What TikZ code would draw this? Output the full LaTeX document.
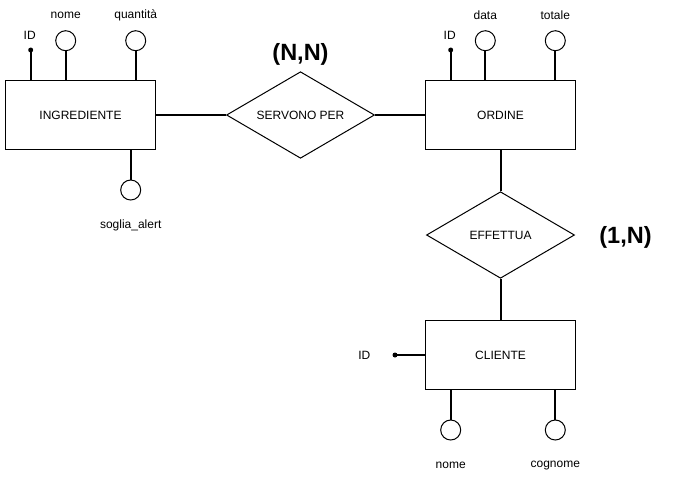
\documentclass[tikz,border=0pt]{standalone}
\usepackage{fontspec}
\setmainfont{Liberation Sans}
\usetikzlibrary{shapes.geometric,positioning}
\definecolor{erink}{HTML}{000000}
\tikzset{
  erentity/.style={draw=erink, fill=white, line width=1pt, inner sep=0pt,
                   minimum width=149.6pt, minimum height=69.7pt,
                   font=\fontsize{12}{14}\selectfont},
  errel/.style={diamond, draw=erink, fill=white, line width=1pt, inner sep=0pt,
                minimum width=148pt, minimum height=86.6pt, aspect=1.7,
                font=\fontsize{12}{14}\selectfont},
  erattr/.style={circle, draw=erink, line width=1pt, minimum size=20pt, inner sep=0pt},
  erkey/.style={circle, fill=erink, minimum size=5pt, inner sep=0pt},
  erlink/.style={draw=erink, line width=2pt},
  erlabel/.style={font=\fontsize{12}{14}\selectfont, inner sep=1pt},
  ercard/.style={font=\bfseries\fontsize{23.5}{27}\selectfont, inner sep=1pt},
}
\begin{document}
\begin{tikzpicture}[x=1pt,y=-1pt]
  \useasboundingbox (0,0) rectangle (675,480);
  % entities and relationships
  \node[erentity] (ingr) at (80.5,115)  {INGREDIENTE};
  \node[erentity] (ord)  at (500.5,115) {ORDINE};
  \node[erentity] (cli)  at (500.5,355) {CLIENTE};
  \node[errel] (serv) at (300.5,115) {SERVONO PER};
  \node[errel] (eff)  at (500.5,235) {EFFETTUA};
  \draw[erlink] (ingr) -- (serv);
  \draw[erlink] (serv) -- (ord);
  \draw[erlink] (ord) -- (eff);
  \draw[erlink] (eff) -- (cli);
  \node[ercard] (cardserv) at (300.5,54)  {(N,N)};
  \node[ercard] (cardeff)  at (625.5,237) {(1,N)};

  % keys on top
  \foreach \nm/\ent/\x in {ingid/ingr/30.7, ordid/ord/450.7} {
    \node[erkey] (\nm) at (\x,50) {};
    \node[erlabel] (\nm txt) at (\x-1,35) {ID};
    \draw[erlink] (\nm.center) -- (\nm |- \ent.north);
  }
  % attributes on top
  \foreach \nm/\ent/\x/\txt in {ingnome/ingr/65.7/nome, ingqty/ingr/135.7/quantit\`a,
                                orddata/ord/485.3/data, ordtot/ord/555.3/totale} {
    \node[erattr] (\nm) at (\x,40.7) {};
    \node[erlabel] (\nm txt) at (\x,15.7) {\txt};
    \draw[erlink] (\nm) -- (\nm |- \ent.north);
  }
  % attributes below
  \foreach \nm/\ent/\x/\y/\txt in {ingsoglia/ingr/130.7/190/soglia\_alert,
                                   clinome/cli/450.7/430/nome, clicog/cli/555.3/430/cognome} {
    \node[erattr] (\nm) at (\x,\y) {};
    \node[erlabel] (\nm txt) at (\x,\y+35.5) {\txt};
    \draw[erlink] (\nm) -- (\nm |- \ent.south);
  }
  % key of CLIENTE
  \node[erkey] (cliid) at (395,355) {};
  \node[erlabel] (cliid txt) at (364.3,355) {ID};
  \draw[erlink] (cliid.center) -- (cli.west);
\end{tikzpicture}
\end{document}
